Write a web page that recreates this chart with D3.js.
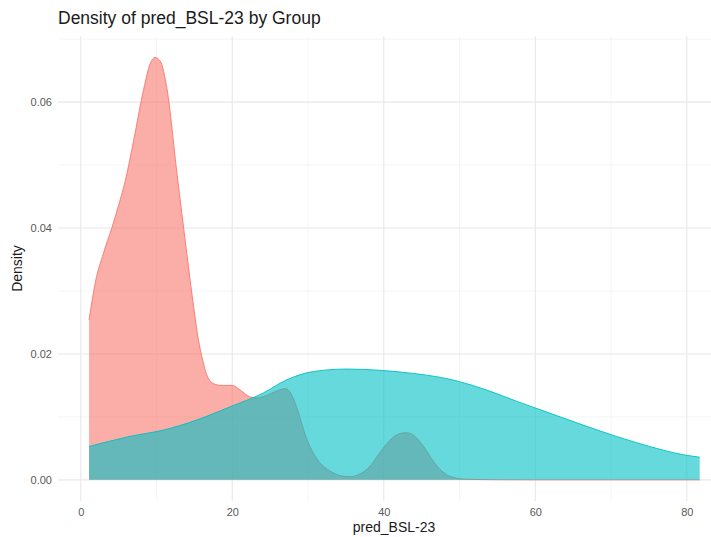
<!DOCTYPE html>
<html>
<head>
<meta charset="utf-8">
<script src="https://cdn.jsdelivr.net/npm/d3@7"></script>
<style>
  body { margin: 0; background: #fff; }
  svg { display: block; font-family: "Liberation Sans", Arial, sans-serif; }
</style>
</head>
<body>
<svg id="chart" width="711" height="537"></svg>
<script>
// density estimates, one list per group
const groupNames = ["A", "B"];
const groupColors = ["#F8766D", "#00BFC4"];

const pinkX = [1.1, 1.9, 3.0, 4.1, 5.0, 5.9, 7.0, 8.3, 9.2, 9.8, 10.5, 11.4, 12.7, 14.0, 14.9, 15.5, 16.1, 16.8,
  17.5, 18.5, 20.0, 21.0, 22.3, 23.2, 24.5, 26.0, 27.0, 27.8, 28.6, 29.8, 31.2, 32.9, 34.5, 35.5,
  36.8, 38.2, 39.6, 40.8, 42.0, 43.0, 44.0, 45.2, 46.3, 47.4, 49.1, 51.0, 55.0, 60.0, 70.0, 81.7];
const pinkY = [0.0254, 0.0312, 0.036, 0.04, 0.0436, 0.0476, 0.054, 0.062, 0.0662, 0.0671, 0.0665, 0.062, 0.0487, 0.036, 0.0275, 0.0225, 0.019, 0.0162,
  0.0153, 0.015, 0.015, 0.0143, 0.0132, 0.013, 0.0134, 0.0142, 0.0145, 0.0136, 0.0112, 0.0066, 0.0033, 0.0014, 0.0006, 0.0005,
  0.0009, 0.0022, 0.0045, 0.0063, 0.0073, 0.0075, 0.007, 0.0054, 0.0034, 0.0017, 0.0004, 0.0001, 0.00002, 0, 0, 0];

const tealX = [1.1, 6.5, 10.9, 15.3, 19.7, 24.1, 27.2, 30.7, 35.1, 39.5, 43.9, 47.4, 50.0, 53.5, 57.5,
  61.9, 66.3, 70.7, 75.1, 79.5, 81.7];
const tealY = [0.0053, 0.0069, 0.0079, 0.0095, 0.0116, 0.0138, 0.0159, 0.0172, 0.0176, 0.0174, 0.0169, 0.0163, 0.0156, 0.0143, 0.0125,
  0.0106, 0.0087, 0.0069, 0.0053, 0.004, 0.0036];

const xTicks = [0, 20, 40, 60, 80];
const xMinor = [10, 30, 50, 70];
const yTicks = [0, 0.02, 0.04, 0.06];
const yMinor = [0.01, 0.03, 0.05, 0.07];

const svg = d3.select("#chart");

// panel limits (ggplot-style 5% expansion)
const xScale = d3.scaleLinear().domain([-3.0, 85.7]).range([58, 730]);
const yScale = d3.scaleLinear().domain([-0.00336, 0.0705]).range([501, 36]);

const grid = svg.append("g");

// minor grid
grid.selectAll(".xminor").data(xMinor).enter().append("line")
  .attr("x1", d => xScale(d)).attr("x2", d => xScale(d))
  .attr("y1", yScale.range()[0]).attr("y2", yScale.range()[1])
  .attr("stroke", "#efefef").attr("stroke-width", 0.6);
grid.selectAll(".yminor").data(yMinor).enter().append("line")
  .attr("y1", d => yScale(d)).attr("y2", d => yScale(d))
  .attr("x1", xScale.range()[0]).attr("x2", xScale.range()[1])
  .attr("stroke", "#efefef").attr("stroke-width", 0.6);

// major grid
grid.selectAll(".xmajor").data(xTicks).enter().append("line")
  .attr("x1", d => xScale(d)).attr("x2", d => xScale(d))
  .attr("y1", yScale.range()[0]).attr("y2", yScale.range()[1])
  .attr("stroke", "#e8e8e8").attr("stroke-width", 1.1);
grid.selectAll(".ymajor").data(yTicks).enter().append("line")
  .attr("y1", d => yScale(d)).attr("y2", d => yScale(d))
  .attr("x1", xScale.range()[0]).attr("x2", xScale.range()[1])
  .attr("stroke", "#e8e8e8").attr("stroke-width", 1.1);

// densities
const series = [
  { name: groupNames[0], color: groupColors[0], pts: pinkX.map((x, i) => [x, pinkY[i]]) },
  { name: groupNames[1], color: groupColors[1], pts: tealX.map((x, i) => [x, tealY[i]]) }
];

const area = d3.area()
  .x(d => xScale(d[0]))
  .y0(yScale(0))
  .y1(d => yScale(d[1]))
  .curve(d3.curveMonotoneX);

const line = d3.line()
  .x(d => xScale(d[0]))
  .y(d => yScale(d[1]))
  .curve(d3.curveMonotoneX);

series.forEach(s => {
  svg.append("path")
    .attr("d", area(s.pts))
    .attr("fill", s.color)
    .attr("fill-opacity", 0.6);
  svg.append("path")
    .attr("d", line(s.pts))
    .attr("fill", "none")
    .attr("stroke", s.color)
    .attr("stroke-width", 0.9);
});

// axes (text only, like theme_minimal)
const xAxis = svg.append("g")
  .attr("transform", `translate(0, 504)`)
  .call(d3.axisBottom(xScale).tickValues(xTicks).tickSize(0).tickPadding(4).tickFormat(d3.format("d")));
xAxis.select(".domain").remove();
xAxis.selectAll("text").style("font-size", "11px").attr("fill", "#595959")
  .style("font-family", "Liberation Sans, Arial, sans-serif");

const yAxis = svg.append("g")
  .attr("transform", `translate(55, 0)`)
  .call(d3.axisLeft(yScale).tickValues(yTicks).tickSize(0).tickPadding(3).tickFormat(d3.format(".2f")));
yAxis.select(".domain").remove();
yAxis.selectAll("text").style("font-size", "11px").attr("fill", "#595959")
  .style("font-family", "Liberation Sans, Arial, sans-serif");

// titles
svg.append("text")
  .attr("x", 58).attr("y", 24)
  .style("font-size", "17.5px").attr("fill", "#1a1a1a")
  .text("Density of pred_BSL-23 by Group");

svg.append("text")
  .attr("x", (xScale.range()[0] + xScale.range()[1]) / 2)
  .attr("y", 532)
  .attr("text-anchor", "middle")
  .style("font-size", "14px").attr("fill", "#1a1a1a")
  .text("pred_BSL-23");

svg.append("text")
  .attr("transform", `translate(22, ${(yScale.range()[0] + yScale.range()[1]) / 2}) rotate(-90)`)
  .attr("text-anchor", "middle")
  .style("font-size", "14px").attr("fill", "#1a1a1a")
  .text("Density");
</script>
</body>
</html>
